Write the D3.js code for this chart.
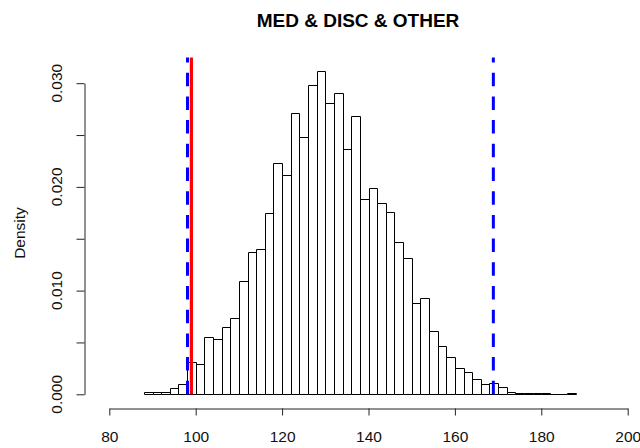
<!DOCTYPE html>
<html>
<head>
<meta charset="utf-8">
<script src="https://cdn.jsdelivr.net/npm/d3@7"></script>
<style>
  body { margin: 0; background: #fff; }
  svg { display: block; font-family: "Liberation Sans", Arial, sans-serif; }
</style>
</head>
<body>
<div id="chart"></div>
<script>
// histogram bins (left edges, width 2) and densities
const binStarts = [88, 90, 92, 94, 96, 98, 100, 102, 104, 106, 108, 110, 112, 114, 116, 118,
  120, 122, 124, 126, 128, 130, 132, 134, 136, 138, 140, 142, 144, 146, 148, 150,
  152, 154, 156, 158, 160, 162, 164, 166, 168, 170, 172, 174, 176, 178, 180, 182, 184, 186];
const binEnds = [90, 92, 94, 96, 98, 100, 102, 104, 106, 108, 110, 112, 114, 116, 118, 120,
  122, 124, 126, 128, 130, 132, 134, 136, 138, 140, 142, 144, 146, 148, 150, 152,
  154, 156, 158, 160, 162, 164, 166, 168, 170, 172, 174, 176, 178, 180, 182, 184, 186, 188];
const densities = [0.00026, 0.00026, 0.00026, 0.00064, 0.00097, 0.00315, 0.0029, 0.00556,
  0.0053, 0.00646, 0.00733, 0.01093, 0.01369, 0.01405, 0.01749, 0.02234,
  0.02112, 0.02713, 0.02481, 0.02983, 0.03121, 0.02813, 0.02903, 0.02363,
  0.02684, 0.01884, 0.01993, 0.01842, 0.01762, 0.01466, 0.01312, 0.00884,
  0.00926, 0.00608, 0.00463, 0.0036, 0.00257, 0.00219, 0.00151, 0.00095,
  0.00113, 0.00072, 0.00026, 0.0001, 0.0001, 0.00016, 0.0001, 0, 0, 0.0001];

const xTicks = [80, 100, 120, 140, 160, 180, 200];
const yTicks = [0, 0.005, 0.01, 0.015, 0.02, 0.025, 0.03];
const yLabels = [0, 0.01, 0.02, 0.03];

const blueLines = [98.1, 168.9];
const redLine = 99.0;
const title = 'MED & DISC & OTHER';

const w = 640;
const h = 448;
const plotTop = 57.5;
const plotBottom = 408.5;
const plotLeft = 84.5;

const xScale = d3.scaleLinear().domain([80, 200]).range([109.3, 627.7]);
const yScale = d3.scaleLinear().domain([0, 0.03]).range([394.3, 83.2]);

const svg = d3.select('#chart').append('svg').attr('width', w).attr('height', h);

svg.append('defs').append('clipPath').attr('id', 'plotclip')
  .append('rect').attr('x', plotLeft).attr('y', plotTop)
  .attr('width', w - plotLeft).attr('height', plotBottom - plotTop);

// bars as closed paths so that empty bins still show a flat line
const px = v => Math.round(xScale(v)) + 0.5;
const py = v => Math.round(yScale(v)) + 0.5;
svg.append('g').selectAll('path')
  .data(densities)
  .enter()
  .append('path')
  .attr('d', (d, i) => 'M' + px(binStarts[i]) + ',' + py(0) + 'V' + py(d) +
    'H' + px(binEnds[i]) + 'V' + py(0) + 'Z')
  .attr('fill', '#fff')
  .attr('stroke', '#000')
  .attr('stroke-width', 1);

// vertical reference lines
const lines = svg.append('g').attr('clip-path', 'url(#plotclip)');
lines.selectAll('line.blue')
  .data(blueLines)
  .enter()
  .append('line')
  .attr('class', 'blue')
  .attr('x1', d => xScale(d)).attr('x2', d => xScale(d))
  .attr('y1', yScale(0)).attr('y2', plotTop - 5)
  .attr('stroke', '#0000ff')
  .attr('stroke-width', 3)
  .attr('stroke-dasharray', '13.5,10.2');
lines.append('line')
  .attr('x1', xScale(redLine)).attr('x2', xScale(redLine))
  .attr('y1', yScale(0)).attr('y2', plotTop - 5)
  .attr('stroke', '#ff0000')
  .attr('stroke-width', 3.2);

// x axis
const xAxis = d3.axisBottom(xScale).tickValues(xTicks).tickSize(7).tickSizeOuter(0).tickPadding(15);
const gx = svg.append('g').attr('transform', 'translate(0,' + plotBottom + ')').call(xAxis);
gx.selectAll('text').attr('font-size', 15.5).attr('fill', '#111').attr('font-family', null);
gx.selectAll('line, path').attr('stroke', '#222');

// y axis
const yAxis = d3.axisLeft(yScale).tickValues(yTicks).tickSize(8).tickSizeOuter(0).tickFormat('');
const gy = svg.append('g').attr('transform', 'translate(' + plotLeft + ',0)').call(yAxis);
gy.selectAll('line, path').attr('stroke', '#222');

svg.append('g').selectAll('text')
  .data(yLabels)
  .enter()
  .append('text')
  .attr('transform', d => 'translate(62,' + yScale(d) + ') rotate(-90)')
  .attr('text-anchor', 'middle')
  .attr('font-size', 15.5)
  .attr('fill', '#111')
  .text(d => d3.format('.3f')(d));

svg.append('text')
  .attr('transform', 'translate(25,' + ((plotTop + plotBottom) / 2) + ') rotate(-90)')
  .attr('text-anchor', 'middle')
  .attr('font-size', 15.5)
  .attr('fill', '#111')
  .text('Density');

svg.append('text')
  .attr('x', 358)
  .attr('y', 27)
  .attr('text-anchor', 'middle')
  .attr('font-size', 19)
  .attr('font-weight', 'bold')
  .attr('fill', '#000')
  .text(title);
</script>
</body>
</html>
